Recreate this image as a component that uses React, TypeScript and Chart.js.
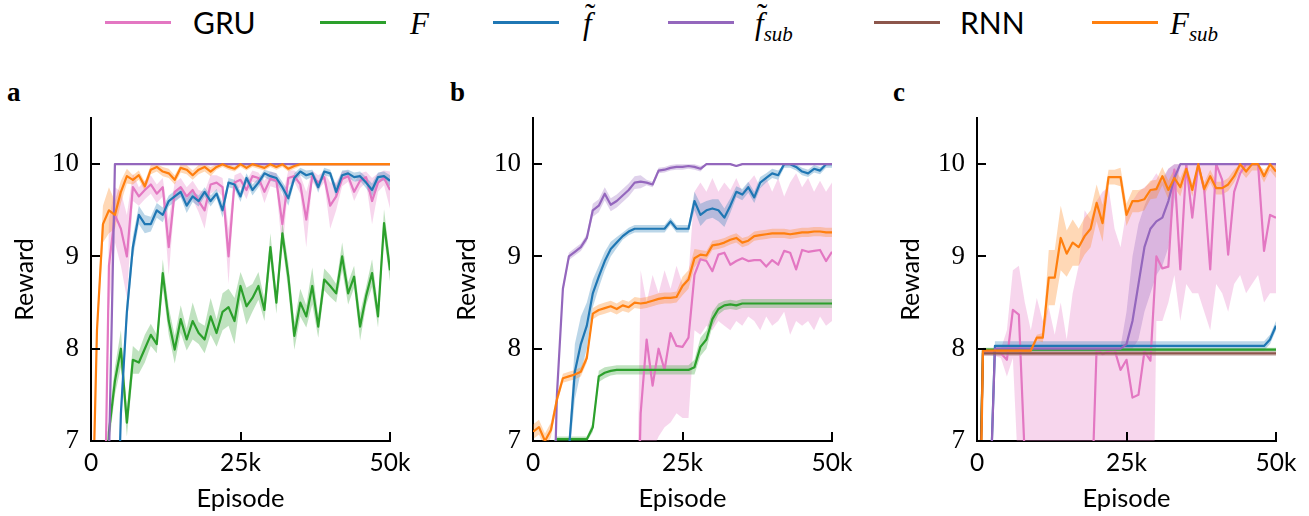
import React, { useEffect, useRef } from "react";
import { Chart, registerables } from "chart.js";

Chart.register(...registerables);

// ---------------- data ----------------
const EPISODES = [
  0, 1000, 2000, 3000, 4000, 5000, 6000, 7000, 8000, 9000,
  10000, 11000, 12000, 13000, 14000, 15000, 16000, 17000, 18000, 19000,
  20000, 21000, 22000, 23000, 24000, 25000, 26000, 27000, 28000, 29000,
  30000, 31000, 32000, 33000, 34000, 35000, 36000, 37000, 38000, 39000,
  40000, 41000, 42000, 43000, 44000, 45000, 46000, 47000, 48000, 49000,
  50000,
];
const X_TICKS = [0, 25000, 50000];
const X_TICK_LABELS = ["0", "25k", "50k"];
const Y_TICKS = [7, 8, 9, 10];
const Y_MIN = 7;
const Y_MAX = 10.5;
const MAX_REWARD = 10;
const X_TITLE = "Episode";
const Y_TITLE = "Reward";
const PANEL_LETTERS = ["a", "b", "c"];
const SERIES_NAMES = ["GRU", "F", "f̃", "f̃_sub", "RNN", "F_sub"];

// ---- panel a ----
const A_GRU = [
  5.0, 5.0, 5.0, 8.9, 9.45, 9.3, 9.0, 9.75, 9.65, 9.72,
  9.78, 9.68, 9.75, 9.1, 9.7, 9.75, 9.65, 9.72, 9.6, 9.5,
  9.78, 9.8, 9.75, 9.0, 9.8, 9.83, 9.72, 9.87, 9.85, 9.7,
  9.84, 9.82, 9.35, 9.85, 9.87, 9.78, 9.4, 9.87, 9.8, 9.86,
  9.55, 9.65, 9.84, 9.87, 9.7, 9.82, 9.86, 9.6, 9.8, 9.85,
  9.72,
];
const A_GRU_SPREAD = [
  0, 0, 0, 0.5, 0.3, 0.4, 0.45, 0.15, 0.1, 0.1,
  0.1, 0.1, 0.1, 0.3, 0.1, 0.1, 0.1, 0.1, 0.12, 0.2,
  0.1, 0.08, 0.1, 0.3, 0.08, 0.08, 0.1, 0.06, 0.06, 0.12,
  0.08, 0.08, 0.3, 0.08, 0.06, 0.1, 0.3, 0.06, 0.08, 0.06,
  0.25, 0.15, 0.08, 0.06, 0.1, 0.08, 0.06, 0.25, 0.1, 0.08,
  0.2,
];
const A_F = [
  5.0, 5.0, 5.5, 7.1, 7.65, 8.0, 7.2, 7.88, 7.85, 8.0,
  8.15, 8.05, 8.82, 8.3, 7.99, 8.32, 8.1, 8.3, 8.17, 8.1,
  8.35, 8.17, 8.4, 8.45, 8.3, 8.68, 8.46, 8.55, 8.68, 8.42,
  9.1, 8.5, 9.25, 8.78, 8.14, 8.5, 8.35, 8.68, 8.24, 8.75,
  8.68, 8.6, 9.0, 8.6, 8.78, 8.24, 8.57, 8.82, 8.35, 9.36,
  8.85,
];
const A_F_SPREAD = [
  0, 0, 0, 0.15, 0.15, 0.2, 0.15, 0.15, 0.12, 0.15,
  0.12, 0.1, 0.15, 0.15, 0.15, 0.15, 0.12, 0.2, 0.12, 0.15,
  0.2, 0.15, 0.2, 0.2, 0.25, 0.15, 0.2, 0.15, 0.15, 0.12,
  0.15, 0.12, 0.12, 0.15, 0.15, 0.15, 0.12, 0.2, 0.12, 0.12,
  0.12, 0.1, 0.15, 0.12, 0.12, 0.15, 0.1, 0.15, 0.12, 0.15,
  0.12,
];
const A_FT = [
  5.0, 5.0, 5.0, 5.0, 5.0, 7.3, 8.4, 9.1, 9.45, 9.35,
  9.35, 9.5, 9.45, 9.6, 9.65, 9.7, 9.55, 9.65, 9.6, 9.7,
  9.6, 9.68, 9.5, 9.8, 9.78, 9.65, 9.85, 9.72, 9.8, 9.9,
  9.87, 9.85, 9.75, 9.63, 9.85, 9.92, 9.88, 9.9, 9.75, 9.92,
  9.9, 9.7, 9.88, 9.9, 9.86, 9.87, 9.8, 9.72, 9.86, 9.87,
  9.82,
];
const A_FT_SPREAD = [
  0, 0, 0, 0, 0, 0.15, 0.15, 0.12, 0.1, 0.1,
  0.08, 0.08, 0.08, 0.06, 0.06, 0.06, 0.08, 0.06, 0.06, 0.05,
  0.06, 0.05, 0.08, 0.05, 0.05, 0.06, 0.05, 0.06, 0.05, 0.04,
  0.05, 0.05, 0.06, 0.08, 0.05, 0.04, 0.05, 0.04, 0.06, 0.04,
  0.04, 0.07, 0.05, 0.04, 0.05, 0.05, 0.06, 0.07, 0.05, 0.05,
  0.06,
];
const A_FT_SUB = [
  4.0, 4.0, 4.0, 6.8, 10, 10, 10, 10, 10, 10,
  10, 10, 10, 10, 10, 10, 10, 10, 10, 10,
  10, 10, 10, 10, 10, 10, 10, 10, 10, 10,
  10, 10, 10, 10, 10, 10, 10, 10, 10, 10,
  10, 10, 10, 10, 10, 10, 10, 10, 10, 10,
  10,
];
const A_RNN = [
  5.0, 5.1, 5.2, 5.3, 5.4, 5.5, 5.6, 5.7, 5.8, 5.9,
  6.0, 6.0, 6.1, 6.1, 6.2, 6.2, 6.3, 6.3, 6.2, 6.3,
  6.4, 6.3, 6.4, 6.4, 6.5, 6.4, 6.5, 6.5, 6.6, 6.5,
  6.6, 6.6, 6.5, 6.6, 6.7, 6.6, 6.7, 6.6, 6.7, 6.7,
  6.6, 6.7, 6.7, 6.8, 6.7, 6.7, 6.8, 6.7, 6.8, 6.8,
  6.8,
];
const A_F_SUB = [
  5.5, 8.2, 9.35, 9.5, 9.45, 9.7, 9.87, 9.83, 9.88, 9.76,
  9.94, 9.97, 9.92, 9.9, 9.83, 9.96, 9.94, 9.88, 9.94, 9.97,
  9.92, 9.97, 10, 9.97, 9.95, 10, 9.96, 10, 9.98, 9.96,
  10, 9.97, 10, 9.95, 9.98, 10, 10, 10, 10, 10,
  10, 10, 10, 10, 10, 10, 10, 10, 10, 10,
  10,
];
const A_F_SUB_SPREAD = [
  0, 0.1, 0.2, 0.25, 0.15, 0.12, 0.08, 0.05, 0.05, 0.05,
  0.05, 0.05, 0.05, 0.05, 0.05, 0.05, 0.05, 0.05, 0.05, 0.05,
  0.05, 0.03, 0.03, 0.03, 0.03, 0.03, 0.03, 0.03, 0.03, 0.03,
  0.03, 0.03, 0.03, 0.03, 0.03, 0.02, 0.02, 0.02, 0.02, 0.02,
  0.02, 0.02, 0.02, 0.02, 0.02, 0.02, 0.02, 0.02, 0.02, 0.02,
  0.02,
];

// ---- panel b ----
const B_GRU = [
  5.0, 5.0, 5.0, 5.0, 5.0, 5.0, 5.0, 5.0, 5.0, 5.0,
  5.0, 5.0, 5.0, 5.0, 5.0, 5.0, 5.0, 4.5, 7.3, 8.1,
  7.6, 8.0, 7.77, 8.17, 8.03, 8.02, 8.12, 8.8, 8.97, 8.95,
  8.84, 9.02, 9.04, 8.91, 8.95, 8.98, 8.95, 8.96, 8.96, 8.89,
  8.96, 8.91, 9.06, 9.04, 8.86, 9.07, 9.05, 9.06, 9.07, 8.95,
  9.05,
];
const B_GRU_LO = [
  5.0, 5.0, 5.0, 5.0, 5.0, 5.0, 5.0, 5.0, 5.0, 5.0,
  5.0, 5.0, 5.0, 5.0, 5.0, 5.0, 5.0, 4.5, 6.7, 6.8,
  6.9, 7.05, 7.15, 7.2, 7.3, 7.25, 7.25, 8.2, 8.15, 8.25,
  8.2, 8.3, 8.25, 8.2, 8.3, 8.25, 8.35, 8.3, 8.2, 8.35,
  8.25, 8.3, 8.4, 8.15, 8.3, 8.25, 8.3, 8.2, 8.35, 8.25,
  8.3,
];
const B_GRU_HI = [
  5.0, 5.0, 5.0, 5.0, 5.0, 5.0, 5.0, 5.0, 5.0, 5.0,
  5.0, 5.0, 5.0, 5.0, 5.0, 5.0, 5.0, 4.5, 8.85, 8.5,
  8.8, 8.6, 8.85, 8.65, 8.9, 8.7, 8.8, 9.7, 9.8, 9.7,
  9.85, 9.7, 9.8, 9.72, 9.85, 9.7, 9.8, 9.88, 9.75, 9.85,
  9.7, 9.85, 9.65, 9.8, 9.9, 9.75, 9.85, 9.7, 9.82, 9.7,
  9.8,
];
const B_F = [
  6.95, 6.95, 6.95, 6.95, 7.02, 7.02, 7.02, 7.02, 7.02, 7.02,
  7.15, 7.7, 7.74, 7.76, 7.77, 7.77, 7.77, 7.77, 7.77, 7.77,
  7.77, 7.77, 7.77, 7.77, 7.77, 7.77, 7.77, 7.8, 8.02, 8.1,
  8.32, 8.43, 8.47, 8.48, 8.47, 8.49, 8.49, 8.49, 8.49, 8.49,
  8.49, 8.49, 8.49, 8.49, 8.49, 8.49, 8.49, 8.49, 8.49, 8.49,
  8.49,
];
const B_F_SPREAD = [
  0, 0, 0, 0, 0.03, 0.03, 0.03, 0.03, 0.03, 0.03,
  0.05, 0.06, 0.06, 0.05, 0.05, 0.05, 0.05, 0.05, 0.05, 0.05,
  0.05, 0.05, 0.05, 0.05, 0.05, 0.05, 0.05, 0.08, 0.1, 0.1,
  0.08, 0.06, 0.05, 0.05, 0.05, 0.05, 0.05, 0.05, 0.05, 0.05,
  0.05, 0.05, 0.05, 0.05, 0.05, 0.05, 0.05, 0.05, 0.05, 0.05,
  0.05,
];
const B_FT = [
  5.0, 5.0, 5.0, 5.0, 5.0, 5.0, 6.9, 7.75, 8.05, 8.25,
  8.6, 8.78, 8.95, 9.08, 9.15, 9.22, 9.27, 9.3, 9.3, 9.3,
  9.3, 9.3, 9.3, 9.38, 9.3, 9.3, 9.3, 9.6, 9.45, 9.5,
  9.52, 9.5, 9.42, 9.55, 9.7, 9.67, 9.75, 9.64, 9.8, 9.85,
  9.9, 9.88, 10, 10, 9.97, 9.92, 9.9, 9.95, 9.93, 10,
  10,
];
const B_FT_SPREAD = [
  0, 0, 0, 0, 0, 0, 0.1, 0.3, 0.3, 0.25,
  0.15, 0.12, 0.1, 0.08, 0.06, 0.04, 0.04, 0.04, 0.04, 0.04,
  0.04, 0.04, 0.04, 0.04, 0.04, 0.04, 0.04, 0.1, 0.12, 0.1,
  0.1, 0.12, 0.1, 0.08, 0.06, 0.06, 0.06, 0.06, 0.06, 0.05,
  0.05, 0.05, 0.04, 0.04, 0.04, 0.04, 0.04, 0.04, 0.04, 0.04,
  0.04,
];
const B_FT_SUB = [
  5.0, 5.0, 5.0, 5.0, 7.5, 8.65, 9.0, 9.05, 9.1, 9.2,
  9.5, 9.55, 9.68, 9.56, 9.6, 9.66, 9.72, 9.8, 9.81, 9.8,
  9.78, 9.93, 9.94, 9.96, 9.97, 9.97, 9.98, 9.97, 9.95, 10,
  10, 10, 10, 10, 9.98, 10, 10, 10, 10, 10,
  10, 10, 10, 10, 10, 10, 10, 10, 10, 10,
  10,
];
const B_FT_SUB_SPREAD = [
  0, 0, 0, 0, 0.04, 0.04, 0.04, 0.04, 0.04, 0.04,
  0.07, 0.07, 0.07, 0.07, 0.07, 0.07, 0.07, 0.07, 0.07, 0.03,
  0.03, 0.03, 0.03, 0.03, 0.03, 0.03, 0.03, 0.03, 0.03, 0.01,
  0.01, 0.01, 0.01, 0.01, 0.01, 0.01, 0.01, 0.01, 0.01, 0.01,
  0.01, 0.01, 0.01, 0.01, 0.01, 0.01, 0.01, 0.01, 0.01, 0.01,
  0.01,
];
const B_RNN = [
  5.0, 5.1, 5.1, 5.2, 5.3, 5.3, 5.4, 5.5, 5.5, 5.6,
  5.6, 5.7, 5.7, 5.8, 5.8, 5.9, 5.9, 6.0, 6.0, 6.0,
  6.1, 6.1, 6.1, 6.2, 6.2, 6.2, 6.3, 6.3, 6.3, 6.3,
  6.4, 6.4, 6.4, 6.4, 6.5, 6.5, 6.5, 6.5, 6.5, 6.6,
  6.6, 6.6, 6.6, 6.6, 6.6, 6.7, 6.7, 6.7, 6.7, 6.7,
  6.7,
];
const B_F_SUB = [
  7.1, 7.15, 7.0, 7.12, 7.45, 7.68, 7.7, 7.72, 7.75, 7.9,
  8.38, 8.42, 8.44, 8.46, 8.43, 8.47, 8.45, 8.5, 8.49, 8.5,
  8.52, 8.54, 8.55, 8.55, 8.56, 8.68, 8.75, 8.98, 9.02, 9.01,
  9.12, 9.13, 9.15, 9.18, 9.2, 9.15, 9.17, 9.22, 9.23, 9.24,
  9.25, 9.25, 9.25, 9.24, 9.25, 9.26, 9.26, 9.27, 9.27, 9.26,
  9.26,
];
const B_F_SUB_SPREAD = [
  0.08, 0.08, 0.08, 0.08, 0.05, 0.05, 0.05, 0.05, 0.05, 0.05,
  0.06, 0.06, 0.06, 0.06, 0.06, 0.06, 0.06, 0.06, 0.06, 0.06,
  0.06, 0.06, 0.06, 0.06, 0.06, 0.1, 0.1, 0.1, 0.05, 0.05,
  0.05, 0.05, 0.05, 0.05, 0.05, 0.05, 0.05, 0.05, 0.05, 0.05,
  0.05, 0.05, 0.05, 0.05, 0.05, 0.05, 0.05, 0.05, 0.05, 0.05,
  0.05,
];

// ---- panel c ----
const C_GRU = [
  5.0, 7.97, 7.97, 7.96, 7.95, 7.88, 8.42, 8.37, 6.8, 4.5,
  4.5, 4.5, 4.5, 4.5, 4.5, 4.5, 4.5, 4.5, 4.5, 6.0,
  8.0, 7.94, 7.97, 7.99, 7.77, 7.88, 7.47, 7.5, 7.97, 7.87,
  9.0, 8.87, 8.89, 9.94, 8.86, 10, 9.42, 10, 9.72, 8.86,
  10, 9.83, 9.02, 9.7, 9.9, 10, 10, 10, 9.06, 9.45,
  9.42,
];
const C_GRU_LO = [
  5.0, 7.93, 7.93, 7.92, 7.9, 7.7, 7.9, 6.5, 4.0, 4.0,
  4.0, 4.0, 4.0, 4.0, 4.0, 4.0, 4.0, 4.0, 4.0, 4.0,
  4.0, 4.0, 4.0, 4.0, 4.0, 4.0, 4.0, 4.0, 4.0, 4.0,
  8.3, 8.3, 8.5, 8.8, 8.3, 8.7, 8.6, 8.6, 8.4, 8.2,
  8.7, 8.6, 8.4, 8.7, 8.8, 8.6, 8.7, 8.8, 8.5, 8.6,
  8.6,
];
const C_GRU_HI = [
  5.0, 8.0, 8.0, 8.0, 8.0, 8.2, 8.85, 8.9, 8.5, 8.2,
  8.55, 8.3, 8.45, 8.15, 8.5, 8.1, 8.6, 8.9, 9.5, 9.4,
  9.6, 9.7, 9.75, 9.3, 9.1, 9.5, 9.6, 9.7, 9.75, 9.8,
  9.9, 9.8, 9.95, 10, 10, 10, 10, 10, 10, 10,
  10, 10, 10, 10, 10, 10, 10, 10, 9.9, 9.95,
  10,
];
const C_F = [
  5.0, 7.99, 7.99, 7.99, 7.99, 7.99, 7.99, 7.99, 7.99, 7.99,
  7.99, 7.99, 7.99, 7.99, 7.99, 7.99, 7.99, 7.99, 7.99, 7.99,
  7.99, 7.99, 7.99, 7.99, 7.99, 7.99, 7.99, 7.99, 7.99, 7.99,
  7.99, 7.99, 7.99, 7.99, 7.99, 7.99, 7.99, 7.99, 7.99, 7.99,
  7.99, 7.99, 7.99, 7.99, 7.99, 7.99, 7.99, 7.99, 7.99, 7.99,
  7.99,
];
const C_F_SPREAD = 0.02;
const C_FT = [
  5.0, 5.0, 6.0, 8.03, 8.03, 8.03, 8.03, 8.03, 8.03, 8.03,
  8.03, 8.03, 8.03, 8.03, 8.03, 8.03, 8.03, 8.03, 8.03, 8.03,
  8.03, 8.03, 8.03, 8.03, 8.03, 8.03, 8.03, 8.03, 8.03, 8.03,
  8.03, 8.03, 8.03, 8.03, 8.03, 8.03, 8.03, 8.03, 8.03, 8.03,
  8.03, 8.03, 8.03, 8.03, 8.03, 8.03, 8.03, 8.03, 8.03, 8.1,
  8.25,
];
const C_FT_SPREAD = 0.05;
const C_FT_SUB = [
  5.0, 5.0, 6.0, 8.0, 8.0, 8.0, 8.0, 8.0, 8.0, 8.0,
  8.0, 8.0, 8.0, 8.0, 8.0, 8.0, 8.0, 8.0, 8.0, 8.0,
  8.0, 8.0, 8.0, 8.0, 8.0, 8.05, 8.3, 8.7, 9.1, 9.3,
  9.38, 9.42, 9.6, 9.85, 10, 10, 10, 10, 10, 10,
  10, 10, 10, 10, 10, 10, 10, 10, 10, 10,
  10,
];
const C_FT_SUB_LO = [
  5.0, 5.0, 6.0, 7.98, 7.98, 7.98, 7.98, 7.98, 7.98, 7.98,
  7.98, 7.98, 7.98, 7.98, 7.98, 7.98, 7.98, 7.98, 7.98, 7.98,
  7.98, 7.98, 7.98, 7.98, 7.98, 8.0, 8.0, 8.1, 8.4, 8.6,
  8.8, 8.9, 9.1, 9.6, 10, 10, 10, 10, 10, 10,
  10, 10, 10, 10, 10, 10, 10, 10, 10, 10,
  10,
];
const C_FT_SUB_HI = [
  5.0, 5.0, 6.0, 8.02, 8.02, 8.02, 8.02, 8.02, 8.02, 8.02,
  8.02, 8.02, 8.02, 8.02, 8.02, 8.02, 8.02, 8.02, 8.02, 8.02,
  8.02, 8.02, 8.02, 8.02, 8.02, 8.4, 9.0, 9.35, 9.55, 9.7,
  9.75, 9.85, 9.95, 10, 10, 10, 10, 10, 10, 10,
  10, 10, 10, 10, 10, 10, 10, 10, 10, 10,
  10,
];
const C_RNN = [
  5.0, 7.95, 7.95, 7.95, 7.95, 7.95, 7.95, 7.95, 7.95, 7.95,
  7.95, 7.95, 7.95, 7.95, 7.95, 7.95, 7.95, 7.95, 7.95, 7.95,
  7.95, 7.95, 7.95, 7.95, 7.95, 7.95, 7.95, 7.95, 7.95, 7.95,
  7.95, 7.95, 7.95, 7.95, 7.95, 7.95, 7.95, 7.95, 7.95, 7.95,
  7.95, 7.95, 7.95, 7.95, 7.95, 7.95, 7.95, 7.95, 7.95, 7.95,
  7.95,
];
const C_RNN_SPREAD = 0.03;
const C_F_SUB = [
  4.0, 7.98, 7.98, 7.98, 7.98, 7.98, 7.98, 7.98, 7.98, 7.98,
  8.12, 8.12, 8.77, 8.77, 9.2, 9.03, 9.15, 9.1, 9.22, 9.3,
  9.58, 9.36, 9.86, 9.86, 9.86, 9.45, 9.6, 9.6, 9.62, 9.72,
  9.73, 9.87, 9.72, 9.85, 9.75, 9.95, 9.72, 10, 9.73, 9.87,
  9.74, 9.74, 9.78, 9.87, 10, 9.92, 10, 10, 9.87, 10,
  9.92,
];
const C_F_SUB_SPREAD = [
  0, 0.02, 0.02, 0.02, 0.02, 0.02, 0.02, 0.02, 0.02, 0.02,
  0.03, 0.05, 0.3, 0.3, 0.35, 0.25, 0.25, 0.2, 0.2, 0.2,
  0.2, 0.2, 0.08, 0.08, 0.1, 0.12, 0.12, 0.12, 0.12, 0.1,
  0.1, 0.1, 0.1, 0.1, 0.1, 0.07, 0.07, 0.07, 0.07, 0.07,
  0.07, 0.07, 0.07, 0.07, 0.07, 0.07, 0.07, 0.07, 0.07, 0.07,
  0.07,
];

type SeriesData = { mean: number[]; spread?: number[] | number; lo?: number[]; hi?: number[] };

const PANELS: SeriesData[][] = [
  [
    { mean: A_GRU, spread: A_GRU_SPREAD },
    { mean: A_F, spread: A_F_SPREAD },
    { mean: A_FT, spread: A_FT_SPREAD },
    { mean: A_FT_SUB, spread: 0 },
    { mean: A_RNN, spread: 0 },
    { mean: A_F_SUB, spread: A_F_SUB_SPREAD },
  ],
  [
    { mean: B_GRU, lo: B_GRU_LO, hi: B_GRU_HI },
    { mean: B_F, spread: B_F_SPREAD },
    { mean: B_FT, spread: B_FT_SPREAD },
    { mean: B_FT_SUB, spread: B_FT_SUB_SPREAD },
    { mean: B_RNN, spread: 0 },
    { mean: B_F_SUB, spread: B_F_SUB_SPREAD },
  ],
  [
    { mean: C_GRU, lo: C_GRU_LO, hi: C_GRU_HI },
    { mean: C_F, spread: C_F_SPREAD },
    { mean: C_FT, spread: C_FT_SPREAD },
    { mean: C_FT_SUB, lo: C_FT_SUB_LO, hi: C_FT_SUB_HI },
    { mean: C_RNN, spread: C_RNN_SPREAD },
    { mean: C_F_SUB, spread: C_F_SUB_SPREAD },
  ],
];

// ---------------- styles ----------------
const COLORS = ["#e377c2", "#2ca02c", "#1f77b4", "#9467bd", "#8c564b", "#ff7f0e"];
const BAND_ALPHA = 0.3;
const SANS = "Lato, 'Open Sans', sans-serif";
const SERIF = "'Liberation Serif', 'DejaVu Serif', serif";
const PANEL_LEFT = [0, 442, 886];
const CANVAS_TOP = 80;
const CANVAS_W = 420;
const CANVAS_H = 436;
const LETTER_LEFT = [7, 450, 893];
const LEGEND_LINE_LEFT = [105, 320, 493, 668, 874, 1092];
const LEGEND_TEXT_LEFT = [193, 410, 583, 755, 960, 1170];

function rgba(hex: string, a: number) {
  const n = parseInt(hex.slice(1), 16);
  return `rgba(${(n >> 16) & 255},${(n >> 8) & 255},${n & 255},${a})`;
}

function bandOf(s: SeriesData) {
  const sp = (j: number) =>
    typeof s.spread === "number" ? s.spread : s.spread ? s.spread[j] : 0;
  const lo = s.lo ?? s.mean.map((v, j) => v - sp(j));
  const hi = s.hi ?? s.mean.map((v, j) => Math.min(MAX_REWARD, v + sp(j)));
  return { lo, hi };
}

const pts = (ys: number[]) => ys.map((y, j) => ({ x: EPISODES[j], y }));

const inwardTicks = {
  id: "inwardTicks",
  afterDraw(chart: any) {
    const { ctx, chartArea } = chart;
    const xs = chart.scales.x;
    const ys = chart.scales.y;
    ctx.save();
    ctx.strokeStyle = "#000";
    ctx.lineWidth = 2;
    ctx.beginPath();
    xs.ticks.forEach((t: any) => {
      const p = Math.round(xs.getPixelForValue(t.value));
      ctx.moveTo(p, chartArea.bottom);
      ctx.lineTo(p, chartArea.bottom - 9);
    });
    ys.ticks.forEach((t: any) => {
      const p = Math.round(ys.getPixelForValue(t.value));
      ctx.moveTo(chartArea.left, p);
      ctx.lineTo(chartArea.left + 9, p);
    });
    ctx.stroke();
    ctx.restore();
  },
};

function Panel({ series, left }: { series: SeriesData[]; left: number }) {
  const ref = useRef<HTMLCanvasElement>(null);
  useEffect(() => {
    const datasets: any[] = [];
    series.forEach((s, i) => {
      const { lo, hi } = bandOf(s);
      datasets.push({
        label: SERIES_NAMES[i] + " lo",
        data: pts(lo),
        borderColor: "rgba(0,0,0,0)",
        borderWidth: 0,
        pointRadius: 0,
        fill: false,
        order: 100 - i,
      });
      datasets.push({
        label: SERIES_NAMES[i] + " hi",
        data: pts(hi),
        borderColor: "rgba(0,0,0,0)",
        borderWidth: 0,
        pointRadius: 0,
        fill: "-1",
        backgroundColor: rgba(COLORS[i], BAND_ALPHA),
        order: 100 - i,
      });
    });
    series.forEach((s, i) => {
      datasets.push({
        label: SERIES_NAMES[i],
        data: pts(s.mean),
        borderColor: COLORS[i],
        borderWidth: 2.2,
        borderJoinStyle: "round",
        pointRadius: 0,
        fill: false,
        order: 10 - i,
      });
    });

    const chart = new Chart(ref.current as HTMLCanvasElement, {
      type: "line",
      data: { datasets },
      options: {
        animation: false,
        responsive: false,
        devicePixelRatio: 1,
        layout: { padding: { left: 0, top: 38, right: 30, bottom: 0 } },
        plugins: { legend: { display: false }, tooltip: { enabled: false } },
        elements: { line: { tension: 0 }, point: { radius: 0 } },
        scales: {
          x: {
            type: "linear",
            min: 0,
            max: 50000,
            z: 1,
            afterBuildTicks: (s: any) => {
              s.ticks = X_TICKS.map((v) => ({ value: v }));
            },
            afterFit: (s: any) => {
              s.height = 75;
            },
            grid: { display: false, drawTicks: false },
            border: { display: true, color: "#000", width: 2 },
            ticks: {
              autoSkip: false,
              maxRotation: 0,
              color: "#000",
              padding: 7,
              font: { family: SANS, size: 24.5 },
              callback: (v: any) => X_TICK_LABELS[X_TICKS.indexOf(Number(v))],
            },
            title: {
              display: true,
              text: X_TITLE,
              color: "#000",
              font: { family: SANS, size: 25.5 },
              padding: { top: 0, bottom: 2 },
            },
          },
          y: {
            type: "linear",
            min: Y_MIN,
            max: Y_MAX,
            z: 1,
            afterBuildTicks: (s: any) => {
              s.ticks = Y_TICKS.map((v) => ({ value: v }));
            },
            afterFit: (s: any) => {
              s.width = 91;
            },
            grid: { display: false, drawTicks: false },
            border: { display: true, color: "#000", width: 2 },
            ticks: {
              autoSkip: false,
              color: "#000",
              padding: 12,
              font: { family: SERIF, size: 27 },
              callback: (v: any) => String(v),
            },
            title: {
              display: true,
              text: Y_TITLE,
              color: "#000",
              font: { family: SANS, size: 25 },
              padding: { top: 10, bottom: 0 },
            },
          },
        },
      } as any,
      plugins: [inwardTicks],
    });
    return () => chart.destroy();
  }, [series]);
  return (
    <canvas
      ref={ref}
      width={CANVAS_W}
      height={CANVAS_H}
      style={{ position: "absolute", left, top: CANVAS_TOP, width: CANVAS_W, height: CANVAS_H }}
    />
  );
}

function LegendLabel({ name }: { name: string }) {
  const [base, sub] = name.split("_");
  const isMath = base !== "GRU" && base !== "RNN";
  if (!isMath) {
    return <span style={{ fontFamily: SANS, fontSize: 30, lineHeight: "30px" }}>{base}</span>;
  }
  const tilde = base.includes("\u0303");
  const letter = base.replace("\u0303", "");
  return (
    <span style={{ fontFamily: SERIF, fontStyle: "italic", fontSize: 31, lineHeight: "31px" }}>
      <span style={{ position: "relative", display: "inline-block" }}>
        {letter}
        {tilde && (
          <span style={{ position: "absolute", left: 2, top: -9, fontStyle: "normal" }}>˜</span>
        )}
      </span>
      {sub && <span style={{ fontSize: 21, position: "relative", top: 7 }}>{sub}</span>}
    </span>
  );
}

export default function App() {
  return (
    <div
      style={{
        position: "fixed",
        left: 0,
        top: 0,
        width: 1309,
        height: 516,
        background: "#fff",
        overflow: "hidden",
      }}
    >
      {SERIES_NAMES.map((n, i) => (
        <React.Fragment key={n}>
          <div
            style={{
              position: "absolute",
              left: LEGEND_LINE_LEFT[i],
              top: 21,
              width: 66,
              height: 3,
              background: COLORS[i],
            }}
          />
          <div
            style={{
              position: "absolute",
              left: LEGEND_TEXT_LEFT[i],
              top: n === "GRU" || n === "RNN" ? 7 : 8,
              whiteSpace: "nowrap",
              color: "#000",
            }}
          >
            <LegendLabel name={n} />
          </div>
        </React.Fragment>
      ))}
      {PANEL_LETTERS.map((l, i) => (
        <div
          key={l}
          style={{
            position: "absolute",
            left: LETTER_LEFT[i],
            top: 79,
            fontFamily: SERIF,
            fontWeight: "bold",
            fontSize: 27,
            lineHeight: "27px",
            color: "#000",
          }}
        >
          {l}
        </div>
      ))}
      {PANELS.map((p, i) => (
        <Panel key={i} series={p} left={PANEL_LEFT[i]} />
      ))}
    </div>
  );
}
